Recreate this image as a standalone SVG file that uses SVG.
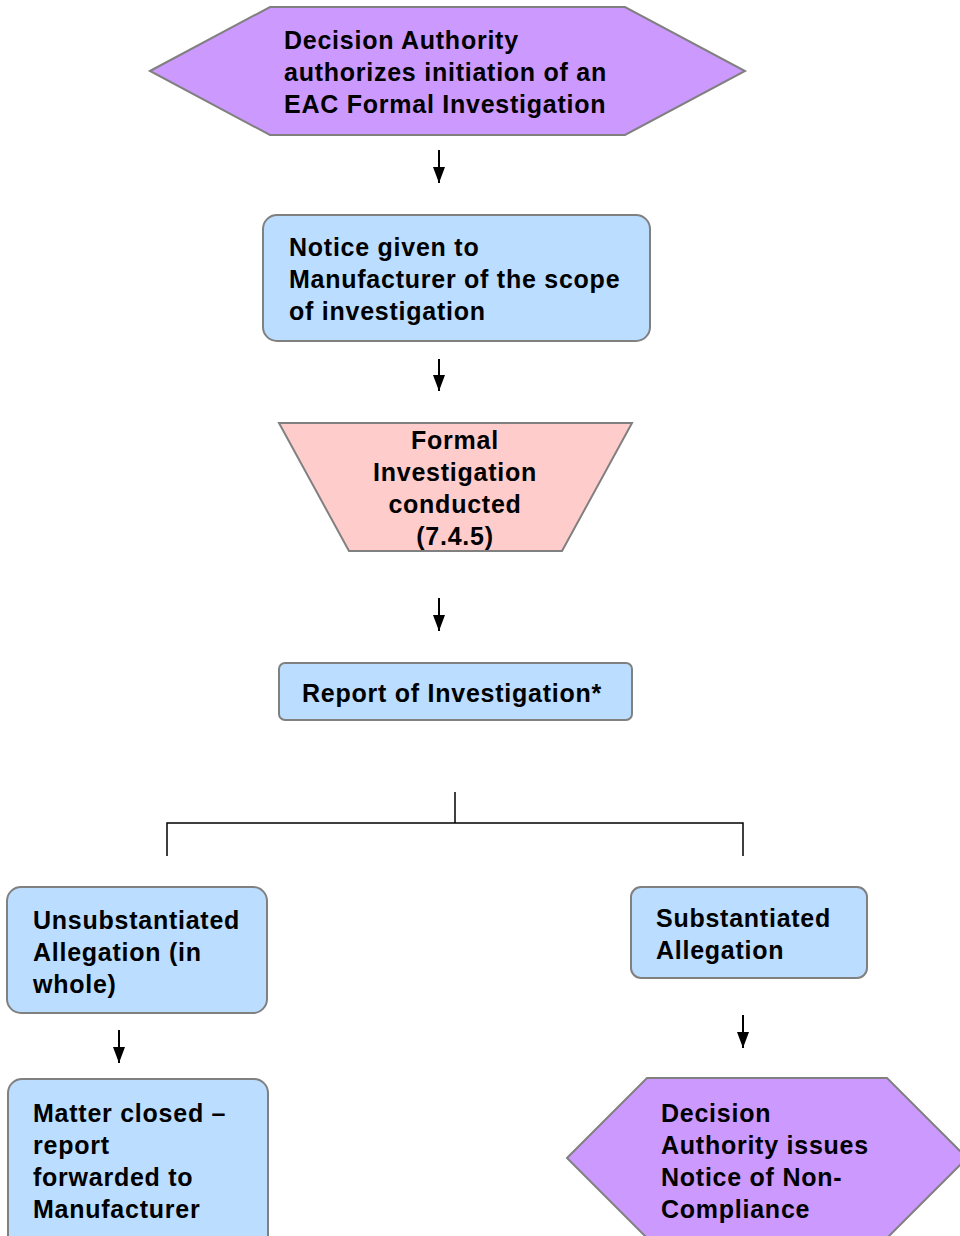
<svg xmlns="http://www.w3.org/2000/svg" width="960" height="1236" viewBox="0 0 960 1236">
<defs>
<marker id="ah" markerWidth="16" markerHeight="12" refX="16" refY="6" orient="auto" markerUnits="userSpaceOnUse" viewBox="0 0 16 12">
<path d="M0,0 L16,6 L0,12 Z" fill="#000"/>
</marker>
<style>
.t{font-family:"Liberation Sans",Arial,sans-serif;font-weight:bold;font-size:25px;letter-spacing:0.75px;fill:#000}
.blue{fill:#bbddff;stroke:#808080;stroke-width:2}
.purple{fill:#cc99ff;stroke:#808080;stroke-width:2}
.pink{fill:#ffcccc;stroke:#808080;stroke-width:2}
.c{fill:none;stroke:#000;stroke-width:1.5}
.a{fill:none;stroke:#000;stroke-width:2}
</style>
</defs>
<rect width="960" height="1236" fill="#fff"/>
<g id="n1">
<polygon class="purple" points="150,71 270,7 625,7 745,71 625,135 270,135"/>
<text class="t" x="284" y="49">Decision Authority</text>
<text class="t" x="284" y="81">authorizes initiation of an</text>
<text class="t" x="284" y="113">EAC Formal Investigation</text>
</g>
<g id="n2">
<rect class="blue" x="263" y="215" width="387" height="126" rx="14"/>
<text class="t" x="289" y="256">Notice given to</text>
<text class="t" x="289" y="288">Manufacturer of the scope</text>
<text class="t" x="289" y="320">of investigation</text>
</g>
<g id="n3">
<polygon class="pink" points="279,423 632,423 562,551 349,551"/>
<text class="t" x="455" y="449" text-anchor="middle">Formal</text>
<text class="t" x="455" y="481" text-anchor="middle">Investigation</text>
<text class="t" x="455" y="513" text-anchor="middle">conducted</text>
<text class="t" x="455" y="545" text-anchor="middle">(7.4.5)</text>
</g>
<g id="n4">
<rect class="blue" x="279" y="663" width="353" height="57" rx="6"/>
<text class="t" x="302" y="702">Report of Investigation*</text>
</g>
<g id="n5">
<rect class="blue" x="7" y="887" width="260" height="126" rx="14"/>
<text class="t" x="33" y="929">Unsubstantiated</text>
<text class="t" x="33" y="961">Allegation (in</text>
<text class="t" x="33" y="993">whole)</text>
</g>
<g id="n6">
<rect class="blue" x="631" y="887" width="236" height="91" rx="10"/>
<text class="t" x="656" y="927">Substantiated</text>
<text class="t" x="656" y="959">Allegation</text>
</g>
<g id="n7">
<rect class="blue" x="8" y="1079" width="260" height="170" rx="14"/>
<text class="t" x="33" y="1122">Matter closed –</text>
<text class="t" x="33" y="1154">report</text>
<text class="t" x="33" y="1186">forwarded to</text>
<text class="t" x="33" y="1218">Manufacturer</text>
</g>
<g id="n8">
<polygon class="purple" points="567,1158 647,1078 887,1078 967,1158 887,1238 647,1238"/>
<text class="t" x="661" y="1122">Decision</text>
<text class="t" x="661" y="1154">Authority issues</text>
<text class="t" x="661" y="1186">Notice of Non-</text>
<text class="t" x="661" y="1218">Compliance</text>
</g>
<g id="connectors">
<line class="a" x1="439" y1="150" x2="439" y2="183" marker-end="url(#ah)"/>
<line class="a" x1="439" y1="359" x2="439" y2="391" marker-end="url(#ah)"/>
<line class="a" x1="439" y1="598" x2="439" y2="631" marker-end="url(#ah)"/>
<polyline class="c" points="455,792 455,823"/>
<polyline class="c" points="167,856 167,823 743,823 743,856"/>
<line class="a" x1="119" y1="1030" x2="119" y2="1063" marker-end="url(#ah)"/>
<line class="a" x1="743" y1="1015" x2="743" y2="1048" marker-end="url(#ah)"/>
</g>
</svg>
